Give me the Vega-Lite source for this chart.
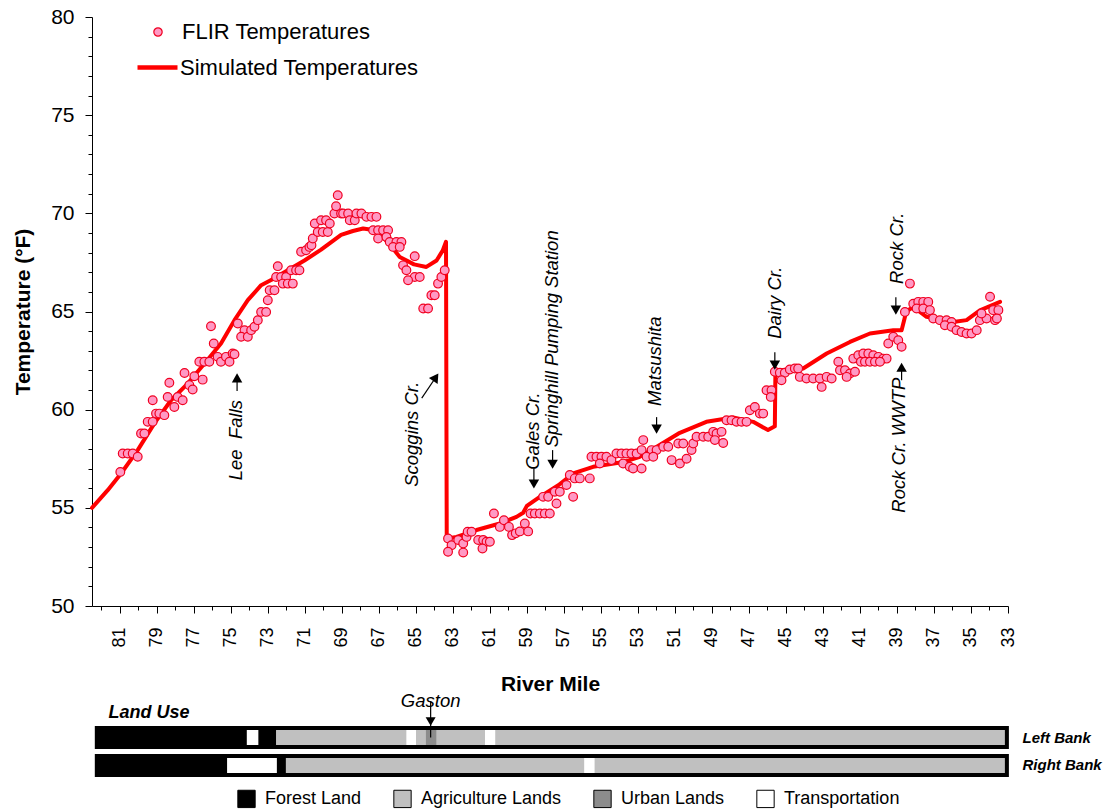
{
  "$schema": "https://vega.github.io/schema/vega-lite/v6.json",
  "background": "white",
  "padding": {"left": 12, "top": 6, "right": 5, "bottom": 5},
  "config": {
    "font": "Liberation Sans",
    "view": {"stroke": null},
    "axis": {"grid": false, "domainColor": "black", "tickColor": "black", "labelColor": "black", "titleColor": "black", "labelFont": "Liberation Sans", "titleFont": "Liberation Sans", "domainWidth": 1, "tickWidth": 1},
    "legend": {"labelFont": "Liberation Sans", "labelColor": "black", "labelLimit": 0}
  },
  "bounds": "flush",
  "spacing": 122,
  "resolve": {"scale": {"fill": "independent"}, "legend": {"fill": "independent"}},
  "datasets": {
    "sim": [
      {"mile":82.5,"temp":55.0},{"mile":81.65,"temp":55.9},{"mile":80.93,"temp":56.75},{"mile":80.03,"temp":57.94},{"mile":79.13,"temp":59.3},{"mile":78.23,"temp":60.48},{"mile":77.33,"temp":61.33},{"mile":76.42,"temp":62.35},{"mile":75.53,"temp":63.37},{"mile":74.8,"temp":64.56},{"mile":74.08,"temp":65.58},{"mile":73.36,"temp":66.34},{"mile":72.82,"temp":66.6},{"mile":71.92,"temp":67.1},{"mile":71.02,"temp":67.6},{"mile":70.12,"temp":68.15},{"mile":69.04,"temp":68.9},{"mile":68.4,"temp":69.1},{"mile":67.85,"temp":69.23},{"mile":67.3,"temp":69.15},{"mile":66.95,"temp":68.97},{"mile":66.4,"temp":68.4},{"mile":65.87,"temp":67.78},{"mile":65.1,"temp":67.4},{"mile":64.43,"temp":67.27},{"mile":63.88,"temp":67.6},{"mile":63.55,"temp":68.1},{"mile":63.37,"temp":68.55},{"mile":63.33,"temp":53.44},{"mile":62.8,"temp":53.52},{"mile":61.72,"temp":53.87},{"mile":60.46,"temp":54.2},{"mile":59.56,"temp":54.54},{"mile":59.2,"temp":54.75},{"mile":59.0,"temp":55.1},{"mile":58.3,"temp":55.56},{"mile":57.3,"temp":56.15},{"mile":56.5,"temp":56.75},{"mile":55.42,"temp":57.09},{"mile":53.7,"temp":57.35},{"mile":52.9,"temp":57.6},{"mile":52.0,"temp":58.1},{"mile":50.8,"temp":58.79},{"mile":49.3,"temp":59.38},{"mile":48.2,"temp":59.55},{"mile":47.85,"temp":59.6},{"mile":46.77,"temp":59.38},{"mile":45.97,"temp":58.96},{"mile":45.6,"temp":59.15},{"mile":45.57,"temp":61.8},{"mile":45.5,"temp":62.0},{"mile":44.07,"temp":62.1},{"mile":42.8,"temp":62.86},{"mile":41.54,"temp":63.45},{"mile":40.46,"temp":63.88},{"mile":39.2,"temp":64.05},{"mile":38.75,"temp":64.05},{"mile":38.6,"temp":64.6},{"mile":38.5,"temp":65.0},{"mile":38.12,"temp":65.23},{"mile":37.4,"temp":64.73},{"mile":35.96,"temp":64.47},{"mile":35.24,"temp":64.56},{"mile":34.52,"temp":65.06},{"mile":33.43,"temp":65.49}
    ],
    "flir": [
      {"mile":80.97,"temp":56.83},{"mile":80.84,"temp":57.77},{"mile":80.57,"temp":57.77},{"mile":80.3,"temp":57.77},{"mile":80.03,"temp":57.6},{"mile":79.85,"temp":58.79},{"mile":79.67,"temp":58.79},{"mile":79.49,"temp":59.38},{"mile":79.22,"temp":59.38},{"mile":79.22,"temp":60.48},{"mile":79.04,"temp":59.8},{"mile":78.86,"temp":59.8},{"mile":78.59,"temp":59.72},{"mile":78.41,"temp":60.65},{"mile":78.32,"temp":61.37},{"mile":78.05,"temp":60.14},{"mile":77.87,"temp":60.65},{"mile":77.6,"temp":60.48},{"mile":77.5,"temp":61.87},{"mile":77.24,"temp":61.25},{"mile":77.06,"temp":61.03},{"mile":76.97,"temp":61.7},{"mile":76.7,"temp":62.44},{"mile":76.43,"temp":62.44},{"mile":76.16,"temp":62.44},{"mile":76.52,"temp":61.53},{"mile":76.07,"temp":64.25},{"mile":75.92,"temp":63.37},{"mile":75.71,"temp":62.69},{"mile":75.53,"temp":62.44},{"mile":75.26,"temp":62.69},{"mile":75.07,"temp":62.44},{"mile":74.9,"temp":62.86},{"mile":74.8,"temp":62.82},{"mile":74.62,"temp":64.39},{"mile":74.26,"temp":64.05},{"mile":74.44,"temp":63.71},{"mile":74.08,"temp":63.71},{"mile":73.9,"temp":64.05},{"mile":73.72,"temp":64.22},{"mile":73.54,"temp":64.56},{"mile":73.36,"temp":64.98},{"mile":73.09,"temp":64.98},{"mile":73.0,"temp":65.57},{"mile":72.9,"temp":66.08},{"mile":72.64,"temp":66.08},{"mile":72.46,"temp":67.31},{"mile":72.55,"temp":66.76},{"mile":72.28,"temp":66.76},{"mile":72.01,"temp":66.76},{"mile":71.74,"temp":67.1},{"mile":71.47,"temp":67.1},{"mile":71.29,"temp":67.1},{"mile":72.19,"temp":66.42},{"mile":71.92,"temp":66.42},{"mile":71.65,"temp":66.42},{"mile":71.2,"temp":68.04},{"mile":70.93,"temp":68.12},{"mile":70.75,"temp":68.29},{"mile":70.64,"temp":68.38},{"mile":70.57,"temp":68.72},{"mile":70.3,"temp":69.05},{"mile":70.03,"temp":69.05},{"mile":69.76,"temp":69.05},{"mile":70.46,"temp":69.48},{"mile":70.12,"temp":69.65},{"mile":69.85,"temp":69.65},{"mile":69.65,"temp":69.48},{"mile":69.4,"temp":69.99},{"mile":69.04,"temp":69.99},{"mile":69.31,"temp":70.36},{"mile":69.22,"temp":70.92},{"mile":68.93,"temp":69.99},{"mile":68.66,"temp":69.99},{"mile":68.57,"temp":69.65},{"mile":68.3,"temp":69.65},{"mile":68.21,"temp":69.99},{"mile":67.94,"temp":69.99},{"mile":67.67,"temp":69.82},{"mile":67.4,"temp":69.82},{"mile":67.13,"temp":69.82},{"mile":67.31,"temp":69.14},{"mile":67.04,"temp":69.14},{"mile":66.77,"temp":69.14},{"mile":66.5,"temp":69.14},{"mile":67.04,"temp":68.72},{"mile":66.59,"temp":68.8},{"mile":66.41,"temp":68.54},{"mile":66.05,"temp":68.54},{"mile":65.78,"temp":68.54},{"mile":66.23,"temp":68.29},{"mile":65.87,"temp":68.29},{"mile":65.69,"temp":67.35},{"mile":65.06,"temp":67.82},{"mile":65.51,"temp":67.1},{"mile":65.06,"temp":66.76},{"mile":64.79,"temp":66.76},{"mile":65.42,"temp":66.59},{"mile":64.6,"temp":65.15},{"mile":64.34,"temp":65.15},{"mile":64.16,"temp":65.83},{"mile":63.98,"temp":65.83},{"mile":63.8,"temp":66.42},{"mile":63.62,"temp":66.76},{"mile":63.44,"temp":67.1},
      {"mile":63.26,"temp":53.44},{"mile":63.07,"temp":53.1},{"mile":62.71,"temp":53.36},{"mile":63.26,"temp":52.76},{"mile":62.44,"temp":52.72},{"mile":62.44,"temp":53.18},{"mile":62.26,"temp":53.52},{"mile":62.2,"temp":53.78},{"mile":61.99,"temp":53.78},{"mile":61.63,"temp":53.36},{"mile":61.36,"temp":53.36},{"mile":61.18,"temp":53.27},{"mile":61.0,"temp":53.27},{"mile":61.4,"temp":52.93},{"mile":60.78,"temp":54.71},{"mile":60.46,"temp":54.03},{"mile":60.24,"temp":54.37},{"mile":59.97,"temp":54.03},{"mile":59.8,"temp":53.61},{"mile":59.6,"temp":53.7},{"mile":59.38,"temp":53.8},{"mile":59.11,"temp":54.2},{"mile":58.93,"temp":53.8},{"mile":58.8,"temp":54.71},{"mile":58.57,"temp":54.71},{"mile":58.3,"temp":54.71},{"mile":58.03,"temp":54.71},{"mile":57.76,"temp":54.71},{"mile":58.12,"temp":55.56},{"mile":57.85,"temp":55.56},{"mile":57.4,"temp":55.22},{"mile":57.49,"temp":55.82},{"mile":57.22,"temp":55.82},{"mile":56.86,"temp":56.16},{"mile":56.5,"temp":55.56},{"mile":56.68,"temp":56.67},{"mile":56.41,"temp":56.5},{"mile":56.14,"temp":56.5},{"mile":55.6,"temp":56.5},{"mile":55.51,"temp":57.6},{"mile":55.24,"temp":57.6},{"mile":54.97,"temp":57.6},{"mile":54.7,"temp":57.6},{"mile":55.06,"temp":57.26},{"mile":54.43,"temp":57.43},{"mile":54.16,"temp":57.77},{"mile":53.89,"temp":57.77},{"mile":53.62,"temp":57.77},{"mile":53.35,"temp":57.77},{"mile":53.07,"temp":57.77},{"mile":53.8,"temp":57.26},{"mile":53.44,"temp":57.09},{"mile":53.26,"temp":57.0},{"mile":52.8,"temp":57.0},{"mile":52.71,"temp":58.45},{"mile":52.8,"temp":57.94},{"mile":52.26,"temp":57.94},{"mile":51.99,"temp":57.94},{"mile":51.63,"temp":58.11},{"mile":51.36,"temp":58.11},{"mile":52.53,"temp":57.6},{"mile":52.17,"temp":57.6},{"mile":51.18,"temp":57.43},{"mile":50.73,"temp":57.26},{"mile":50.37,"temp":57.5},{"mile":50.1,"temp":57.94},{"mile":50.01,"temp":58.28},{"mile":50.82,"temp":58.28},{"mile":50.55,"temp":58.28},{"mile":49.83,"temp":58.62},{"mile":49.47,"temp":58.62},{"mile":49.2,"temp":58.62},{"mile":48.93,"temp":58.87},{"mile":48.75,"temp":58.79},{"mile":48.48,"temp":58.87},{"mile":48.84,"temp":58.45},{"mile":48.39,"temp":58.3},{"mile":48.21,"temp":59.46},{"mile":47.94,"temp":59.46},{"mile":47.67,"temp":59.38},{"mile":47.4,"temp":59.38},{"mile":47.13,"temp":59.38},{"mile":46.95,"temp":59.97},{"mile":46.68,"temp":60.14},{"mile":46.41,"temp":59.8},{"mile":46.23,"temp":59.8},{"mile":46.05,"temp":60.99},{"mile":45.78,"temp":60.99},{"mile":45.82,"temp":60.65},{"mile":45.6,"temp":61.93},{"mile":45.33,"temp":61.88},{"mile":45.06,"temp":61.88},{"mile":44.79,"temp":62.05},{"mile":44.52,"temp":62.1},{"mile":45.24,"temp":61.5},
      {"mile":44.34,"temp":62.1},{"mile":44.25,"temp":61.67},{"mile":43.89,"temp":61.59},{"mile":43.53,"temp":61.59},{"mile":43.17,"temp":61.59},{"mile":42.8,"temp":61.67},{"mile":42.53,"temp":61.59},{"mile":43.07,"temp":61.16},{"mile":42.17,"temp":62.44},{"mile":42.08,"temp":62.01},{"mile":41.81,"temp":62.01},{"mile":41.54,"temp":61.84},{"mile":41.27,"temp":61.93},{"mile":41.72,"temp":61.67},{"mile":41.36,"temp":62.6},{"mile":41.09,"temp":62.77},{"mile":40.82,"temp":62.86},{"mile":40.55,"temp":62.86},{"mile":40.28,"temp":62.77},{"mile":40.0,"temp":62.69},{"mile":39.74,"temp":62.6},{"mile":39.56,"temp":62.6},{"mile":40.95,"temp":62.44},{"mile":40.73,"temp":62.44},{"mile":40.46,"temp":62.44},{"mile":40.19,"temp":62.44},{"mile":39.92,"temp":62.44},{"mile":39.47,"temp":63.37},{"mile":39.2,"temp":63.71},{"mile":38.93,"temp":63.54},{"mile":38.75,"temp":63.2},{"mile":38.57,"temp":64.98},{"mile":38.3,"temp":66.42},{"mile":38.12,"temp":65.4},{"mile":37.85,"temp":65.49},{"mile":37.58,"temp":65.49},{"mile":37.31,"temp":65.49},{"mile":37.94,"temp":65.15},{"mile":37.58,"temp":65.15},{"mile":37.22,"temp":65.07},{"mile":37.04,"temp":64.64},{"mile":36.68,"temp":64.56},{"mile":36.32,"temp":64.56},{"mile":36.05,"temp":64.47},{"mile":36.41,"temp":64.3},{"mile":36.05,"temp":64.22},{"mile":35.78,"temp":64.05},{"mile":35.51,"temp":63.96},{"mile":35.24,"temp":63.88},{"mile":34.97,"temp":63.88},{"mile":34.69,"temp":64.05},{"mile":34.52,"temp":64.56},{"mile":34.16,"temp":64.64},{"mile":33.8,"temp":65.07},{"mile":33.52,"temp":65.07},{"mile":33.97,"temp":65.75},{"mile":33.7,"temp":64.56},{"mile":33.6,"temp":64.64},{"mile":34.43,"temp":64.9}
    ],
    "labels": [
      {"mile":74.72,"temp":58.45,"label":"Lee \u00a0Falls"},
      {"mile":65.23,"temp":58.75,"label":"Scoggins Cr."},
      {"mile":58.67,"temp":58.91,"label":"Gales Cr."},
      {"mile":57.62,"temp":63.61,"label":"Springhill Pumping Station"},
      {"mile":52.06,"temp":62.47,"label":"Matsushita"},
      {"mile":45.6,"temp":65.45,"label":"Dairy Cr."},
      {"mile":38.98,"temp":68.22,"label":"Rock Cr."},
      {"mile":38.87,"temp":58.19,"label":"Rock Cr. WWTP"}
    ],
    "arrows": [
      {"mile":74.66,"temp":61.62,"mile2":74.66,"temp2":60.95,"dir":"up"},
      {"mile":63.92,"temp":61.65,"mile2":64.68,"temp2":60.59,"dir":"diag"},
      {"mile":58.62,"temp":56.21,"mile2":58.62,"temp2":57.02,"dir":"down"},
      {"mile":57.61,"temp":57.22,"mile2":57.61,"temp2":57.94,"dir":"down"},
      {"mile":51.99,"temp":59.01,"mile2":51.99,"temp2":59.62,"dir":"down"},
      {"mile":45.6,"temp":62.27,"mile2":45.6,"temp2":62.93,"dir":"down"},
      {"mile":39.06,"temp":65.07,"mile2":39.06,"temp2":65.73,"dir":"down"},
      {"mile":38.75,"temp":62.16,"mile2":38.75,"temp2":61.5,"dir":"up"}
    ],
    "landuse": [
      {"bank":"Left Bank","use":"Forest Land","start":82.24,"end":74.13},
      {"bank":"Left Bank","use":"Transportation","start":74.13,"end":73.51},
      {"bank":"Left Bank","use":"Forest Land","start":73.51,"end":72.54},
      {"bank":"Left Bank","use":"Agriculture Lands","start":72.54,"end":65.5},
      {"bank":"Left Bank","use":"Transportation","start":65.5,"end":64.99},
      {"bank":"Left Bank","use":"Agriculture Lands","start":64.99,"end":64.47},
      {"bank":"Left Bank","use":"Urban Lands","start":64.47,"end":63.87},
      {"bank":"Left Bank","use":"Agriculture Lands","start":63.87,"end":61.26},
      {"bank":"Left Bank","use":"Transportation","start":61.26,"end":60.71},
      {"bank":"Left Bank","use":"Agriculture Lands","start":60.71,"end":33.06},
      {"bank":"Right Bank","use":"Forest Land","start":82.24,"end":75.19},
      {"bank":"Right Bank","use":"Transportation","start":75.19,"end":72.51},
      {"bank":"Right Bank","use":"Forest Land","start":72.51,"end":72.02},
      {"bank":"Right Bank","use":"Agriculture Lands","start":72.02,"end":55.89},
      {"bank":"Right Bank","use":"Transportation","start":55.89,"end":55.34},
      {"bank":"Right Bank","use":"Agriculture Lands","start":55.34,"end":33.06}
    ],
    "gaston": [{"mile":64.2,"bank":"Left Bank","label":"Gaston"}]
  },
  "vconcat": [
    {
      "width": 916,
      "height": 589,
      "encoding": {
        "x": {"field":"mile","type":"quantitative","scale":{"domain":[82.5,33],"nice":false,"zero":false},
          "axis":{"values":[33,34,35,36,37,38,39,40,41,42,43,44,45,46,47,48,49,50,51,52,53,54,55,56,57,58,59,60,61,62,63,64,65,66,67,68,69,70,71,72,73,74,75,76,77,78,79,80,81,82],
            "labelExpr":"datum.value % 2 === 1 ? datum.label : ''","labelAngle":270,"labelFontSize":18,"labelOverlap":false,"labelFlush":false,
            "tickSize":{"condition":{"test":"datum.value % 2 === 1","value":7},"value":4},"labelPadding":14,
            "title":"River Mile","titleFontSize":21,"titleFontWeight":"bold","titlePadding":26}},
        "y": {"field":"temp","type":"quantitative","scale":{"domain":[50,80],"nice":false,"zero":false},
          "axis":{"values":[50,51,52,53,54,55,56,57,58,59,60,61,62,63,64,65,66,67,68,69,70,71,72,73,74,75,76,77,78,79,80],
            "labelExpr":"datum.value % 5 === 0 ? datum.label : ''","labelFontSize":21,"labelOverlap":false,"labelFlush":false,
            "tickSize":{"condition":{"test":"datum.value % 5 === 0","value":7},"value":4},"labelPadding":11,
            "title":"Temperature (°F)","titleFontSize":21,"titleFontWeight":"bold","titlePadding":17}}
      },
      "layer": [
        {"data":{"name":"sim"},"mark":{"type":"line","strokeWidth":4,"strokeJoin":"round","strokeCap":"round"},
         "encoding":{"stroke":{"datum":"Simulated Temperatures","type":"nominal","scale":{"range":["#ff0000"]},
           "legend":{"orient":"none","legendX":43,"legendY":28,"title":null,"labelFontSize":22,"symbolType":"stroke","symbolSize":1600,"symbolStrokeWidth":4.5,"labelOffset":0}}}},
        {"data":{"name":"flir"},"mark":{"type":"circle","size":76,"stroke":"#f00020","strokeWidth":1.2,"opacity":1},
         "encoding":{"fill":{"datum":"FLIR Temperatures","type":"nominal","scale":{"range":["#ff99c4"]},
           "legend":{"orient":"none","legendX":55,"legendY":4,"title":null,"labelFontSize":22,"symbolType":"circle","symbolSize":70,"symbolStrokeColor":"#f00020","symbolStrokeWidth":1.2,"labelOffset":13}}}},
        {"data":{"name":"arrows"},"mark":{"type":"rule","strokeWidth":1.2,"color":"black"},
         "encoding":{"x2":{"field":"mile2"},"y2":{"field":"temp2"}}},
        {"data":{"name":"arrows"},"transform":[{"filter":"datum.dir !== 'diag'"}],
         "mark":{"type":"point","filled":true,"color":"black","size":110,"opacity":1},
         "encoding":{"shape":{"field":"dir","type":"nominal","scale":{"domain":["up","down"],"range":["triangle-up","triangle-down"]},"legend":null}}},
        {"data":{"name":"arrows"},"transform":[{"filter":"datum.dir === 'diag'"}],
         "mark":{"type":"point","shape":"triangle-up","angle":34,"filled":true,"color":"black","size":110,"opacity":1}},
        {"data":{"name":"labels"},"mark":{"type":"text","angle":270,"fontSize":18.5,"fontStyle":"italic","align":"center","baseline":"middle","color":"black"},
         "encoding":{"text":{"field":"label"}}}
      ]
    },
    {
      "width": 916,
      "height": 47,
      "layer": [
        {"data":{"name":"landuse"},"mark":{"type":"rect"},
         "encoding":{
           "x":{"field":"start","type":"quantitative","scale":{"domain":[82.5,33],"nice":false,"zero":false},
             "axis":{"orient":"top","domain":false,"ticks":false,"labels":false,"title":"Land Use","titleFontSize":18,"titleFontStyle":"italic","titleFontWeight":"bold","titleAnchor":"start","titleAlign":"left","titleBaseline":"alphabetic","titleX":16,"titleY":-11}},
           "x2":{"field":"end"},
           "y":{"field":"bank","type":"nominal","scale":{"domain":["Left Bank","Right Bank"],"paddingInner":0.32,"paddingOuter":0},
             "axis":{"orient":"right","domain":false,"ticks":false,"title":null,"labelFontSize":15,"labelFontStyle":"italic","labelFontWeight":"bold","labelPadding":14}},
           "fill":{"field":"use","type":"nominal","scale":{"domain":["Forest Land","Agriculture Lands","Urban Lands","Transportation"],"range":["#000000","#c0c0c0","#8c8c8c","#ffffff"]},
             "legend":{"orient":"none","legendX":145,"legendY":61,"direction":"horizontal","title":null,"columnPadding":29,"labelFontSize":18,"symbolType":"square","symbolSize":300,"symbolStrokeColor":"black","symbolStrokeWidth":1,"labelOffset":9}}}},
        {"data":{"name":"landuse"},"transform":[{"aggregate":[{"op":"max","field":"start","as":"start"},{"op":"min","field":"end","as":"end"}],"groupby":["bank"]}],
         "mark":{"type":"rect","fill":null,"fillOpacity":0,"stroke":"black","strokeWidth":4},
         "encoding":{"x":{"field":"start","type":"quantitative"},"x2":{"field":"end"},"y":{"field":"bank","type":"nominal"}}},
        {"data":{"name":"gaston"},"mark":{"type":"text","fontSize":18.5,"fontStyle":"italic","dy":-31,"baseline":"alphabetic","align":"center","color":"black"},
         "encoding":{"x":{"field":"mile","type":"quantitative"},"y":{"field":"bank","type":"nominal"},"text":{"field":"label"}}},
        {"data":{"name":"gaston"},"mark":{"type":"rule","strokeWidth":1.2,"color":"black"},
         "encoding":{"x":{"field":"mile","type":"quantitative"},"y":{"field":"bank","type":"nominal"},"yOffset":{"value":-27},"y2":{"field":"bank"},"y2Offset":{"value":-13}}},
        {"data":{"name":"gaston"},"mark":{"type":"point","shape":"triangle-down","filled":true,"color":"black","size":100,"opacity":1,"yOffset":-16},
         "encoding":{"x":{"field":"mile","type":"quantitative"},"y":{"field":"bank","type":"nominal"}}}
      ]
    }
  ]
}
